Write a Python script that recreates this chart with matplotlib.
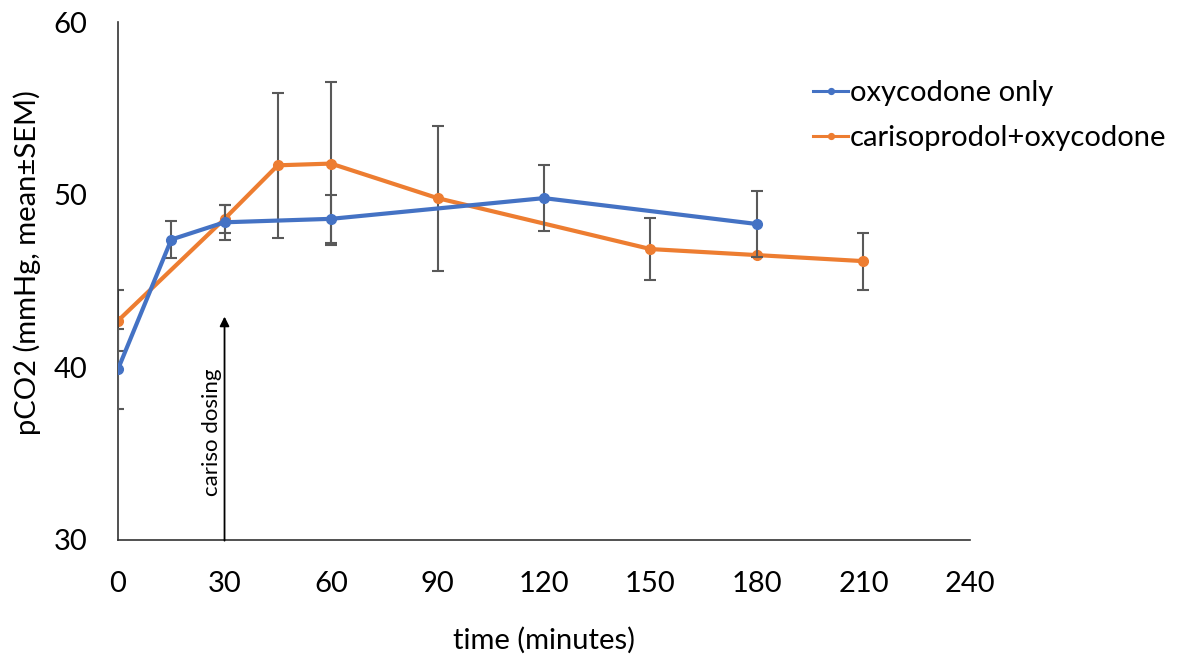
import numpy as np
import matplotlib.pyplot as plt

plt.rcParams['font.family'] = ['Lato', 'DejaVu Sans']

# oxycodone alone
oxy_t = [0, 15, 30, 60, 120, 180]
oxy_mean = [39.9, 47.4, 48.4, 48.6, 49.8, 48.3]
oxy_sem = [2.3, 1.05, 1.0, 1.4, 1.9, 1.9]

# carisoprodol + oxycodone
combo_t = [0, 30, 45, 60, 90, 150, 180, 210]
combo_mean = [42.7, 48.6, 51.7, 51.8, 49.8, 46.85, 46.5, 46.15]
combo_sem = [1.75, 0.8, 4.2, 4.7, 4.2, 1.8, 0.0, 1.65]

x_ticks = [0, 30, 60, 90, 120, 150, 180, 210, 240]
y_ticks = [30, 40, 50, 60]

blue = '#4472C4'
orange = '#ED7D31'
err_col = '#595959'

fig = plt.figure(figsize=(11.78, 6.59), dpi=100)
ax = fig.add_axes([0.1002, 0.1806, 0.7232, 0.786])

ax.errorbar(oxy_t, oxy_mean, yerr=oxy_sem, color=blue, lw=3, marker='o', ms=7,
            ecolor=err_col, elinewidth=1.5, capsize=4, capthick=1.5,
            label='oxycodone only', zorder=3)
ax.errorbar(combo_t, combo_mean, yerr=combo_sem, color=orange, lw=3, marker='o', ms=7,
            ecolor=err_col, elinewidth=1.5, capsize=4, capthick=1.5,
            label='carisoprodol+oxycodone', zorder=2)

# dosing marker
ax.annotate('', xy=(30, 43.1), xytext=(30, 29.8),
            arrowprops=dict(arrowstyle='-|>', color='black', lw=1.3, mutation_scale=14))
ax.text(26.5, 36.25, 'cariso dosing', rotation=90, ha='center', va='center', fontsize=16)

ax.set_xlim(0, 240)
ax.set_ylim(30, 60)
ax.set_xticks(x_ticks)
ax.set_yticks(y_ticks)
ax.tick_params(length=0, labelsize=21)
ax.tick_params(axis='x', pad=22)
ax.tick_params(axis='y', pad=22)
for s in ['top', 'right']:
    ax.spines[s].set_visible(False)
for s in ['left', 'bottom']:
    ax.spines[s].set_color('#333333')
    ax.spines[s].set_linewidth(1.2)

ax.set_xlabel('time (minutes)', fontsize=21, labelpad=22)
ax.set_ylabel('pCO2 (mmHg, mean±SEM)', fontsize=21)
ax.yaxis.set_label_coords(-0.09, 0.535)

handles, labels = ax.get_legend_handles_labels()
handles = [h[0] for h in handles]
leg = fig.legend(handles, labels, loc='upper left', bbox_to_anchor=(0.668, 0.918),
                 frameon=False, fontsize=21, handlelength=1.2, handletextpad=0.05,
                 labelspacing=0.65, markerscale=0.6)
for h in leg.legend_handles:
    h.set_linewidth(2.2)

fig.savefig('out.png', dpi=100)
